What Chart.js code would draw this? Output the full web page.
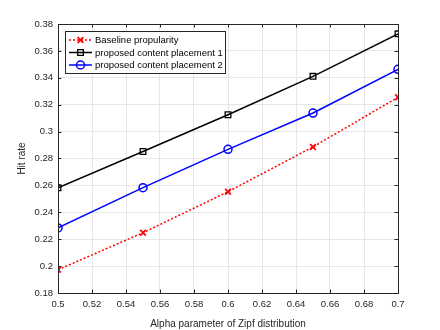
<!DOCTYPE html>
<html>
<head>
<meta charset="utf-8">
<script src="https://cdn.jsdelivr.net/npm/chart.js@4"></script>
<style>
  html, body { margin: 0; padding: 0; background: #fff; }
  #wrap { width: 440px; height: 330px; }
</style>
</head>
<body>
<div id="wrap"><canvas id="chart" width="440" height="330"></canvas></div>
<script>
// data
const alphaValues = [0.5, 0.55, 0.6, 0.65, 0.7];
const baselineHits = [0.1973, 0.2248, 0.2553, 0.2886, 0.3255];
const placement1Hits = [0.2582, 0.2852, 0.3125, 0.3411, 0.3727];
const placement2Hits = [0.2284, 0.2583, 0.2868, 0.3138, 0.3463];
const seriesNames = ['Baseline propularity', 'proposed content placement 1', 'proposed content placement 2'];
const xTitle = 'Alpha parameter of Zipf distribution';
const yTitle = 'Hit rate';

const FONT = 'Liberation Sans, Arial, Helvetica, sans-serif';
const AXIS_COLOR = '#262626';

function toPoints(ys) {
    return alphaValues.map(function (x, i) { return { x: x, y: ys[i] }; });
}

// matlab style labels: 0.5, 0.52, 0.2 ...
function shortLabel(v) {
    return String(Number(v.toFixed(2)));
}

// MATLAB-like inside ticks + box
const boxTicks = {
    id: 'boxTicks',
    afterDatasetsDraw(chart) {
        const ctx = chart.ctx;
        const a = chart.chartArea;
        const xs = chart.scales.x, ys = chart.scales.y;
        ctx.save();
        ctx.strokeStyle = AXIS_COLOR;
        ctx.lineWidth = 1;
        ctx.beginPath();
        xs.ticks.forEach(function (t) {
            const px = Math.round(xs.getPixelForValue(t.value)) + 0.5;
            ctx.moveTo(px, a.bottom); ctx.lineTo(px, a.bottom - 3.5);
            ctx.moveTo(px, a.top); ctx.lineTo(px, a.top + 3.5);
        });
        ys.ticks.forEach(function (t) {
            const py = Math.round(ys.getPixelForValue(t.value)) + 0.5;
            ctx.moveTo(a.left, py); ctx.lineTo(a.left + 3.5, py);
            ctx.moveTo(a.right, py); ctx.lineTo(a.right - 3.5, py);
        });
        ctx.stroke();
        ctx.strokeRect(Math.round(a.left) + 0.5, Math.round(a.top) + 0.5,
            Math.round(a.right - a.left), Math.round(a.bottom - a.top));
        ctx.restore();
    }
};

// legend box inside the plot, top-left
const insideLegend = {
    id: 'insideLegend',
    afterDraw(chart) {
        const ctx = chart.ctx;
        const a = chart.chartArea;
        const x0 = a.left + 7, y0 = a.top + 7, w = 160, h = 42;
        ctx.save();
        ctx.fillStyle = '#fff';
        ctx.fillRect(x0, y0, w, h);
        ctx.strokeStyle = AXIS_COLOR;
        ctx.lineWidth = 1;
        ctx.strokeRect(x0 + 0.5, y0 + 0.5, w, h);
        chart.data.datasets.forEach(function (ds, i) {
            const cy = y0 + 9 + i * 12.5;
            ctx.strokeStyle = ds.borderColor;
            ctx.lineWidth = ds.borderWidth;
            ctx.setLineDash(ds.borderDash || []);
            ctx.beginPath();
            ctx.moveTo(x0 + 4, cy);
            ctx.lineTo(x0 + 27, cy);
            ctx.stroke();
            ctx.setLineDash([]);
            ctx.lineWidth = ds.pointBorderWidth;
            ctx.fillStyle = 'rgba(0,0,0,0)';
            Chart.helpers.drawPoint(ctx, {
                pointStyle: ds.pointStyle, radius: ds.pointRadius, rotation: 0,
                borderWidth: ds.pointBorderWidth
            }, x0 + 15.5, cy);
            ctx.fillStyle = '#000';
            ctx.font = '9.5px ' + FONT;
            ctx.textBaseline = 'middle';
            ctx.fillText(ds.label, x0 + 30, cy + 0.5);
        });
        ctx.restore();
    }
};

const ctx = document.getElementById('chart').getContext('2d');
new Chart(ctx, {
    type: 'line',
    data: {
        datasets: [
            {
                label: seriesNames[0], data: toPoints(baselineHits),
                borderColor: '#ff0000', backgroundColor: '#ff0000', borderWidth: 1.5,
                borderDash: [2, 2], pointStyle: 'crossRot', pointRadius: 4,
                pointBorderWidth: 1.8, pointBorderColor: '#ff0000'
            },
            {
                label: seriesNames[1], data: toPoints(placement1Hits),
                borderColor: '#000000', backgroundColor: 'rgba(0,0,0,0)', borderWidth: 1.5,
                pointStyle: 'rect', pointRadius: 4, pointBorderWidth: 1.3,
                pointBorderColor: '#000000'
            },
            {
                label: seriesNames[2], data: toPoints(placement2Hits),
                borderColor: '#0000ff', backgroundColor: 'rgba(0,0,0,0)', borderWidth: 1.5,
                pointStyle: 'circle', pointRadius: 4, pointBorderWidth: 1.5,
                pointBorderColor: '#0000ff'
            }
        ]
    },
    options: {
        responsive: false,
        animation: false,
        layout: { padding: { top: 24, right: 42, left: 0, bottom: 0 } },
        plugins: { legend: { display: false }, tooltip: { enabled: false } },
        scales: {
            x: {
                type: 'linear', min: 0.5, max: 0.7,
                afterFit: function (s) { s.height = 37; },
                border: { display: false },
                grid: { color: '#e6e6e6', drawTicks: false },
                ticks: { stepSize: 0.02, padding: 6, color: AXIS_COLOR, font: { family: FONT, size: 9.5 },
                    callback: shortLabel },
                title: { display: true, text: xTitle, color: AXIS_COLOR, padding: { top: 2, bottom: 0 }, font: { family: FONT, size: 10 } }
            },
            y: {
                min: 0.18, max: 0.38,
                afterFit: function (s) { s.width = 58; },
                border: { display: false },
                grid: { color: '#e6e6e6', drawTicks: false },
                ticks: { stepSize: 0.02, padding: 5, color: AXIS_COLOR, font: { family: FONT, size: 9.5 },
                    callback: shortLabel },
                title: { display: true, text: yTitle, color: AXIS_COLOR, padding: { top: 16, bottom: 0 }, font: { family: FONT, size: 10 } }
            }
        }
    },
    plugins: [boxTicks, insideLegend]
});
</script>
</body>
</html>
